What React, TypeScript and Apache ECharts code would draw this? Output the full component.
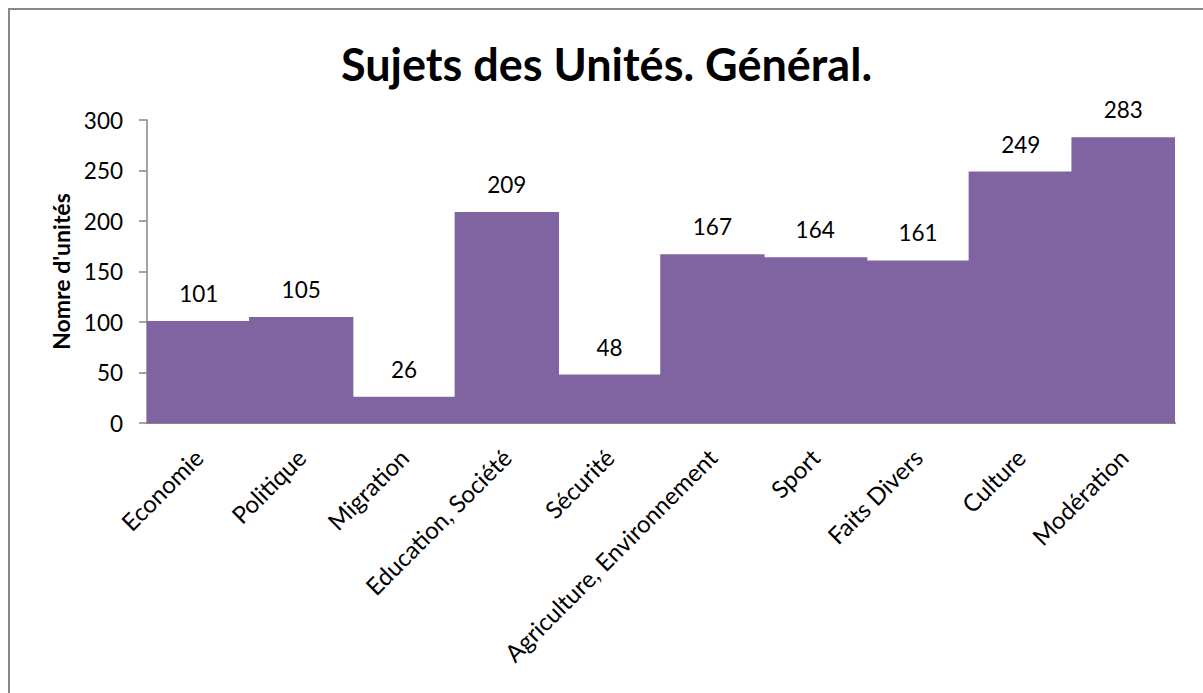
import React, { useEffect, useRef } from "react";
import * as echarts from "echarts";

const categories = [
  "Economie",
  "Politique",
  "Migration",
  "Education, Société",
  "Sécurité",
  "Agriculture, Environnement",
  "Sport",
  "Faits Divers",
  "Culture",
  "Modération",
];
const values = [101, 105, 26, 209, 48, 167, 164, 161, 249, 283];
const titleText = "Sujets des Unités. Général.";
const yAxisName = "Nomre d'unités";

const FONT = "Lato, 'Open Sans', sans-serif";

export default function App() {
  const ref = useRef<HTMLDivElement>(null);
  useEffect(() => {
    document.body.style.margin = "0";
    document.body.style.overflow = "hidden";
    if (!ref.current) return;
    const chart = echarts.init(ref.current, undefined, { renderer: "svg" });
    chart.setOption({
      animation: false,
      backgroundColor: "#ffffff",
      title: {
        text: titleText,
        left: "center",
        top: 26,
        textStyle: { fontFamily: FONT, fontWeight: "bold", fontSize: 45, color: "#000" },
      },
      grid: { left: 137, right: 28, top: 110, bottom: 270, containLabel: false },
      xAxis: {
        type: "category",
        data: categories,
        axisLine: { lineStyle: { color: "#868686", width: 2 } },
        axisTick: { show: false },
        axisLabel: {
          rotate: 45,
          interval: 0,
          margin: 30,
          fontFamily: FONT,
          fontSize: 24,
          color: "#000",
        },
      },
      yAxis: {
        type: "value",
        min: 0,
        max: 300,
        interval: 50,
        name: yAxisName,
        nameLocation: "middle",
        nameGap: 75,
        nameTextStyle: { fontFamily: FONT, fontWeight: "bold", fontSize: 23, color: "#000" },
        axisLine: { show: true, lineStyle: { color: "#868686", width: 1.5 } },
        axisTick: { show: true, length: 8, lineStyle: { color: "#868686", width: 1.5 } },
        splitLine: { show: false },
        axisLabel: { fontFamily: FONT, fontSize: 22.5, color: "#000", margin: 24 },
      },
      series: [
        {
          type: "bar",
          data: values,
          barWidth: "101.5%",
          barCategoryGap: 0,
          itemStyle: { color: "#8064A2" },
          label: {
            show: true,
            position: "top",
            distance: 16,
            fontFamily: FONT,
            fontSize: 22.5,
            color: "#000",
          },
        },
      ],
    });
    return () => chart.dispose();
  }, []);
  return (
    <div
      style={{
        position: "absolute",
        left: 8,
        top: 8,
        width: 1195,
        height: 685,
        borderTop: "2px solid #878787",
        borderLeft: "2px solid #878787",
        boxSizing: "border-box",
        background: "#fff",
      }}
    >
      <div ref={ref} style={{ width: "100%", height: "100%" }} />
    </div>
  );
}
